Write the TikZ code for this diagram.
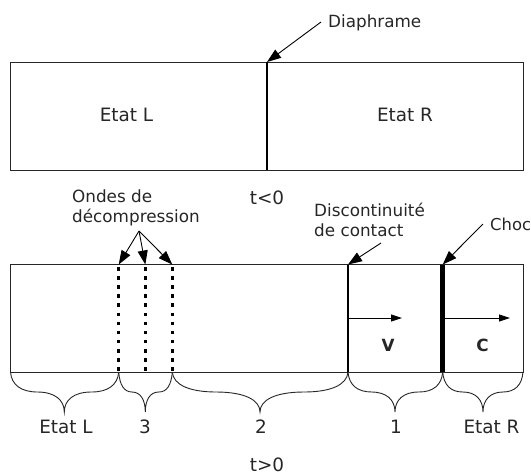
\documentclass[tikz,border=0pt]{standalone}
\usepackage{fontspec}
\setmainfont{DejaVu Sans}
\usetikzlibrary{arrows.meta}
\tikzset{
  px/.style={x=1pt,y=-1pt},
  lbl/.style={inner sep=0pt,font=\fontsize{16.8}{20}\selectfont,text=black!85},
  big/.style={lbl,font=\fontsize{18.4}{20}\selectfont},
  lblleft/.style={lbl,anchor=west,align=left},
  box/.style={draw=black!85,line width=0.9pt},
  ptr/.style={draw=black,line width=0.9pt,-{Triangle[length=14pt,width=10pt]}},
  ptrsmall/.style={ptr,line width=0.8pt,-{Triangle[length=11pt,width=7pt]}},
  wave/.style={draw=black,line width=3.2pt,dash pattern=on 3.6pt off 5.5pt},
  brc/.style={draw=black!85,line width=0.9pt},
}
\newcommand{\bracebelow}[3]{% left x, tip x, right x
  \pgfmathsetmacro{\wa}{0.25*(#3-#1)}
  \draw[brc] (#1,372) .. controls (#1+1,385) and (#1+\wa*.4,392) .. (#1+\wa,392)
    -- (#2-\wa,392) .. controls (#2-\wa*.35,392) and (#2,400) .. (#2,412)
    .. controls (#2,400) and (#2+\wa*.35,392) .. (#2+\wa,392)
    -- (#3-\wa,392) .. controls (#3-\wa*.4,392) and (#3-1,385) .. (#3,372);
}
\begin{document}
\begin{tikzpicture}[px]
\useasboundingbox (0,0) rectangle (531,475);
% top panel
\draw[box] (10.5,62) rectangle (523,170);
\coordinate (diaTop) at (267,62);
\coordinate (diaBot) at (267,170);
\draw[draw=black,line width=2.8pt] (diaTop) -- (diaBot);
\node[big] (etatL1) at (126.5,115) {Etat L};
\node[big] (etatR1) at (405,115) {Etat R};
\node[big] (tneg) at (267,198) {t<0};
\node[lblleft] (dia) at (328,23) {Diaphrame};
\coordinate (diaEnd) at (321,22);
\draw[ptr] (diaEnd) -- (diaTop);
% bottom panel
\draw[box] (10.5,264.5) rectangle (523,372);
\foreach \n/\x in {wa/118.7,wb/145.3,wc/172.3}{
  \coordinate (\n T) at (\x,267);
  \coordinate (\n B) at (\x,372);
  \draw[wave] (\n T) -- (\n B);
}
\coordinate (waH) at (118.7,264.5);
\coordinate (wbH) at (145.3,264.5);
\coordinate (wcH) at (172.3,264.5);
\coordinate (ctT) at (348,264.5);
\coordinate (ctB) at (348,372);
\coordinate (shT) at (442.7,264.5);
\coordinate (shB) at (442.7,372);
\draw[draw=black,line width=2.8pt] (ctT) -- (ctB);
\draw[draw=black,line width=4.8pt] (shT) -- (shB);
\node[lbl,anchor=west,align=left] (ondes) at (72,208) {Ondes de\\décompression};
\coordinate (ondesEnd) at (139,231);
\draw[ptr] (ondesEnd) -- (waH);
\draw[ptr] (ondesEnd) -- (wbH);
\draw[ptr] (ondesEnd) -- (wcH);
\node[lbl,anchor=west,align=left] (disc) at (314,220) {Discontinuité\\de contact};
\coordinate (discEnd) at (381,243);
\draw[ptr] (discEnd) -- (ctT);
\node[lblleft,font=\fontsize{16.4}{20}\selectfont] (choc) at (490,224) {Choc};
\coordinate (chocEnd) at (483,224);
\draw[ptr] (chocEnd) -- (shT);
\coordinate (vA) at (349,318);
\coordinate (vB) at (402,318);
\coordinate (cA) at (444,318);
\coordinate (cB) at (510,318);
\draw[ptrsmall] (vA) -- (vB);
\draw[ptrsmall] (cA) -- (cB);
\node[lbl] (v) at (388,345) {\textbf{V}};
\node[lbl] (c) at (482.5,345) {\textbf{C}};
\bracebelow{10.5}{64.3}{118.7}
\bracebelow{118.7}{145.3}{172.3}
\bracebelow{172.3}{260}{348}
\bracebelow{348}{395}{442.7}
\bracebelow{442.7}{483}{523}
\node[big] (l1) at (66,427) {Etat L};
\node[big] (l2) at (145,427) {3};
\node[big] (l3) at (261,427) {2};
\node[big] (l4) at (396,427) {1};
\node[big] (l5) at (491.5,427) {Etat R};
\node[big] (tpos) at (267,465) {t>0};
\end{tikzpicture}
\end{document}
